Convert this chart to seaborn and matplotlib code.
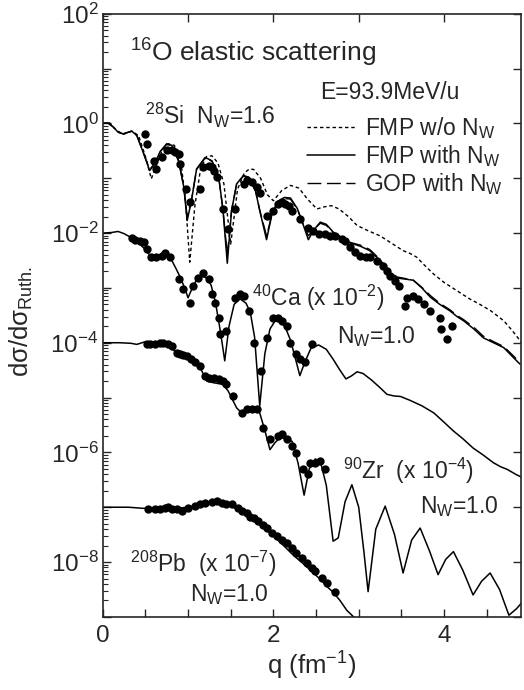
# 16O elastic scattering, 93.9 MeV/u - FMP / GOP comparison
import numpy as np
import pandas as pd
import matplotlib
matplotlib.use('Agg')
import matplotlib.pyplot as plt
import seaborn as sns
from matplotlib.ticker import FixedLocator, FuncFormatter, LogLocator, NullFormatter

# ---- curves (q in fm^-1, log10 of dsigma/dsigma_Ruth) ----
si_fmp_q = [0, 0.06, 0.12, 0.18, 0.24, 0.34, 0.40, 0.48, 0.55, 0.61, 0.67, 0.75, 0.81, 0.89, 0.95,
            0.99, 1.04, 1.10, 1.2, 1.28, 1.36, 1.41, 1.46, 1.51, 1.57, 1.65, 1.71, 1.79, 1.84, 1.92,
            1.98, 2.05, 2.13, 2.2, 2.28, 2.35, 2.41, 2.47, 2.55, 2.62, 2.7, 2.8, 2.9, 3.02, 3.13,
            3.21, 3.29, 3.37, 3.45, 3.55, 3.64, 3.74, 3.84, 3.95, 4.07, 4.15, 4.23, 4.35, 4.46, 4.58,
            4.70, 4.80, 4.89]
si_fmp_lg = [0, 0.01, -0.06, -0.16, -0.19, -0.14, -0.22, -0.55, -0.86, -0.74, -0.52, -0.37, -0.40, -0.68, -1.16,
             -1.77, -1.41, -0.83, -0.62, -0.68, -0.98, -1.59, -2.55, -1.59, -1.10, -0.95, -0.98, -1.22, -1.59, -2.12,
             -1.68, -1.42, -1.35, -1.36, -1.55, -1.85, -2.12, -1.95, -1.80, -1.84, -1.98, -2.08, -2.18, -2.24, -2.32,
             -2.44, -2.58, -2.75, -2.82, -2.84, -2.86, -3.0, -3.17, -3.3, -3.42, -3.52, -3.60, -3.75, -3.91, -4.0,
             -4.09, -4.25, -4.39]
si_gop_lg = [0, 0.01, -0.06, -0.16, -0.19, -0.14, -0.22, -0.55, -0.84, -0.73, -0.52, -0.38, -0.41, -0.69, -1.15,
             -1.70, -1.40, -0.84, -0.63, -0.69, -0.99, -1.58, -2.40, -1.58, -1.10, -0.96, -0.99, -1.23, -1.58, -2.05,
             -1.68, -1.43, -1.37, -1.38, -1.56, -1.84, -2.05, -1.94, -1.82, -1.86, -1.99, -2.08, -2.17, -2.22, -2.30,
             -2.42, -2.56, -2.71, -2.80, -2.83, -2.86, -2.99, -3.14, -3.28, -3.40, -3.50, -3.58, -3.72, -3.88, -3.98,
             -4.07, -4.22, -4.36]
si_won_q = [0, 0.08, 0.16, 0.24, 0.34, 0.42, 0.5, 0.57, 0.63, 0.70, 0.77, 0.84, 0.92, 0.97, 1.02,
            1.08, 1.15, 1.22, 1.28, 1.35, 1.42, 1.50, 1.58, 1.66, 1.72, 1.77, 1.85, 1.93, 2.0, 2.1,
            2.2, 2.3, 2.4, 2.51, 2.6, 2.68, 2.77, 2.88, 2.98, 3.1, 3.25, 3.4, 3.52, 3.6, 3.68,
            3.78, 3.88, 4.0, 4.15, 4.3, 4.42, 4.55, 4.7, 4.8, 4.91]
si_won_lg = [0, 0.01, -0.12, -0.2, -0.14, -0.22, -0.6, -1.01, -0.75, -0.48, -0.37, -0.40, -0.75, -1.4, -2.53,
             -1.5, -0.8, -0.6, -0.59, -0.72, -1.1, -2.2, -1.2, -0.9, -0.83, -0.84, -1.0, -1.3, -1.41, -1.22,
             -1.13, -1.18, -1.38, -1.56, -1.52, -1.5, -1.56, -1.7, -1.86, -1.95, -2.05, -2.2, -2.32, -2.37, -2.44,
             -2.6, -2.75, -2.9, -3.05, -3.2, -3.30, -3.42, -3.6, -3.78, -4.0]

ca_q = [0, 0.1, 0.18, 0.25, 0.32, 0.40, 0.48, 0.54, 0.59, 0.66, 0.73, 0.81, 0.86, 0.91, 0.96,
        1.0, 1.05, 1.10, 1.16, 1.22, 1.27, 1.32, 1.38, 1.43, 1.48, 1.54, 1.61, 1.68, 1.73, 1.78,
        1.84, 1.90, 1.96, 2.02, 2.08, 2.14, 2.2, 2.26, 2.31, 2.37, 2.44, 2.53, 2.62, 2.7, 2.78,
        2.85, 2.92, 2.98, 3.05, 3.15, 3.25, 3.33, 3.41, 3.49, 3.6, 3.74, 3.88, 4.0, 4.11, 4.22,
        4.34, 4.46, 4.58, 4.66, 4.74, 4.84, 4.93]
ca_lg = [-2.0, -1.99, -1.97, -2.01, -2.07, -2.15, -2.27, -2.38, -2.45, -2.43, -2.41, -2.5, -2.65, -2.81, -3.0,
         -3.18, -3.0, -2.85, -2.78, -2.82, -2.95, -3.25, -3.8, -4.33, -3.7, -3.3, -3.2, -3.28, -3.45, -3.9,
         -5.15, -4.2, -3.75, -3.6, -3.6, -3.72, -3.95, -4.3, -4.6, -4.35, -4.1, -4.04, -4.12, -4.3, -4.5,
         -4.66, -4.6, -4.53, -4.56, -4.68, -4.82, -4.94, -4.97, -4.98, -5.05, -5.15, -5.28, -5.45, -5.61, -5.75,
         -5.92, -6.05, -6.19, -6.26, -6.31, -6.4, -6.47]

zr_q = [0, 0.2, 0.33, 0.4, 0.5, 0.6, 0.75, 0.87, 1.0, 1.1, 1.16, 1.22, 1.3, 1.41, 1.47,
        1.57, 1.63, 1.72, 1.80, 1.84, 1.90, 1.96, 2.02, 2.08, 2.15, 2.22, 2.29, 2.36, 2.42, 2.49,
        2.55, 2.62, 2.70, 2.76, 2.84, 2.92, 3.0, 3.06, 3.11, 3.2, 3.31, 3.42, 3.52, 3.62, 3.72,
        3.83, 3.93, 4.02, 4.11, 4.22, 4.34, 4.44, 4.54, 4.65, 4.76, 4.85, 4.94]
zr_lg = [-4.0, -4.0, -4.01, -4.03, -3.98, -3.99, -4.0, -4.2, -4.3, -4.36, -4.51, -4.70, -4.73, -4.76, -4.88,
         -5.19, -5.28, -5.25, -5.22, -5.28, -5.6, -5.95, -5.82, -5.73, -5.75, -5.80, -6.2, -6.78, -6.3, -6.12,
         -6.16, -6.6, -7.62, -7.56, -6.9, -6.59, -7.0, -7.8, -8.54, -7.4, -6.98, -7.5, -8.20, -7.6, -7.38,
         -7.8, -8.23, -7.95, -7.81, -8.15, -8.60, -8.35, -8.20, -8.5, -8.97, -8.85, -8.69]

pb_q = [0, 0.3, 0.47, 0.6, 0.8, 1.0, 1.15, 1.34, 1.5, 1.62, 1.73, 1.86, 2.0, 2.12, 2.23,
        2.35, 2.47, 2.56, 2.63, 2.70, 2.78, 2.86, 2.94, 3.0, 3.1]
pb_lg = [-7.0, -7.0, -7.02, -7.02, -7.03, -7.0, -6.96, -6.91, -6.97, -7.08, -7.2, -7.35, -7.52, -7.7, -7.87,
         -8.03, -8.2, -8.33, -8.45, -8.55, -8.7, -8.88, -9.0, -9.1, -9.3]

# ---- data points ----
si_dq = [.50, .52, .60, .63, .69, .75, .81, .85, .89, .91, .98, 1.02, 1.14, 1.18, 1.24, 1.28, 1.30, 1.34, 1.41, 1.47,
         1.55, 1.65, 1.69, 1.75, 1.81, 1.84, 1.92, 2.00, 2.06, 2.10, 2.14, 2.18, 2.22, 2.31, 2.41, 2.47, 2.53, 2.61,
         2.66, 2.72, 2.80, 2.84, 2.90, 2.96, 3.02, 3.08, 3.13, 3.21, 3.29, 3.33, 3.37, 3.43, 3.47, 3.54, 3.56, 3.64,
         3.70, 3.76, 3.84, 3.95, 3.97, 4.03, 4.09]
si_dlg = [-.20, -.37, -.68, -.83, -.62, -.49, -.48, -.52, -.55, -.74, -1.19, -1.44, -1.19, -.80, -.77, -.80, -.86,
          -.98, -1.56, -1.93, -1.56, -1.10, -1.04, -1.07, -1.16, -1.26, -1.68, -1.59, -1.47, -1.44, -1.47, -1.50,
          -1.59, -1.74, -1.90, -1.96, -2.02, -2.02, -2.05, -2.05, -2.11, -2.14, -2.26, -2.35, -2.41, -2.44, -2.44,
          -2.50, -2.60, -2.69, -2.78, -2.87, -2.96, -3.33, -3.18, -3.14, -3.20, -3.30, -3.42, -3.54, -3.75, -3.94,
          -3.69]
ca_dq = [.34, .38, .44, .48, .52, .57, .63, .69, .73, .79, .89, .94, 1.02, 1.06, 1.12, 1.18, 1.24, 1.28, 1.32, 1.36,
         1.38, 1.45, 1.55, 1.61, 1.65, 1.71, 1.77, 1.86, 1.92, 2.00, 2.06, 2.10, 2.16, 2.20, 2.27, 2.31, 2.37, 2.45]
ca_dlg = [-2.09, -2.12, -2.14, -2.17, -2.29, -2.44, -2.43, -2.41, -2.37, -2.44, -2.84, -3.02, -3.27, -2.96, -2.81,
          -2.72, -2.84, -3.11, -3.27, -3.54, -3.84, -3.78, -3.18, -3.11, -3.14, -3.42, -4.00, -4.52, -3.91, -3.54,
          -3.54, -3.60, -3.69, -4.00, -4.21, -4.30, -4.36, -4.03]
zr_dq = [.52, .55, .61, .67, .71, .77, .81, .87, .91, .94, .99, 1.04, 1.08, 1.14, 1.20, 1.24, 1.30, 1.36, 1.41, 1.45,
         1.53, 1.63, 1.69, 1.75, 1.81, 1.88, 1.96, 2.06, 2.10, 2.16, 2.22, 2.27, 2.35, 2.41, 2.43, 2.49, 2.55, 2.61]
zr_dlg = [-4.02, -4.02, -4.02, -4.00, -4.00, -4.03, -4.06, -4.18, -4.21, -4.23, -4.24, -4.30, -4.36, -4.42, -4.61,
          -4.64, -4.65, -4.67, -4.70, -4.76, -4.97, -5.28, -5.20, -5.20, -5.20, -5.55, -5.76, -5.70, -5.67, -5.76,
          -5.89, -6.01, -6.31, -6.40, -6.19, -6.19, -6.16, -6.31]
pb_dq = [.53, .61, .67, .73, .77, .81, .87, .93, 1.00, 1.08, 1.14, 1.20, 1.28, 1.34, 1.40, 1.45, 1.51, 1.59, 1.63,
         1.69, 1.73, 1.77, 1.82, 1.88, 1.92, 1.98, 2.04, 2.10, 2.16, 2.22, 2.27, 2.33, 2.39, 2.45, 2.49, 2.57, 2.63,
         2.72]
pb_dlg = [-7.03, -7.04, -7.04, -7.01, -7.00, -7.03, -7.04, -7.06, -7.01, -6.98, -6.95, -6.92, -6.90, -6.89, -6.92,
          -6.94, -6.95, -7.01, -7.06, -7.11, -7.17, -7.20, -7.26, -7.32, -7.38, -7.47, -7.53, -7.59, -7.65, -7.75,
          -7.84, -7.93, -8.02, -8.11, -8.17, -8.29, -8.39, -8.54]

sns.set_style('ticks')
plt.rcParams['font.family'] = ['Liberation Sans', 'DejaVu Sans']
plt.rcParams['mathtext.fontset'] = 'custom'
plt.rcParams['mathtext.rm'] = 'Liberation Sans'
plt.rcParams['mathtext.it'] = 'Liberation Sans:italic'
plt.rcParams['mathtext.default'] = 'regular'

fig = plt.figure(figsize=(5.24, 6.9), dpi=100)
ax = fig.add_axes([0.196, 0.106, 0.798, 0.874])
ax.set_yscale('log')

def curve(q, lg, **kw):
    d = pd.DataFrame({'q': q, 'v': 10.0 ** np.array(lg)})
    sns.lineplot(data=d, x='q', y='v', ax=ax, color='black', sort=False, estimator=None, **kw)

def dots(q, lg):
    d = pd.DataFrame({'q': q, 'v': 10.0 ** np.array(lg)})
    sns.scatterplot(data=d, x='q', y='v', ax=ax, color='black', s=36, linewidth=0, zorder=4)

curve(si_won_q, si_won_lg, lw=1.0, linestyle=(0, (2.5, 2.0)), label='FMP w/o N$_\\mathrm{W}$')
curve(si_fmp_q, si_fmp_lg, lw=1.1, label='FMP with N$_\\mathrm{W}$')
curve(si_fmp_q, si_gop_lg, lw=1.0, linestyle=(0, (10, 4)), label='GOP with N$_\\mathrm{W}$')
for q, lg in [(ca_q, ca_lg), (zr_q, zr_lg), (pb_q, pb_lg)]:
    curve(q, lg, lw=1.1)
for q, lg in [(si_dq, si_dlg), (ca_dq, ca_dlg), (zr_dq, zr_dlg), (pb_dq, pb_dlg)]:
    dots(q, lg)

ax.set_xlim(0, 4.9)
ax.set_ylim(1e-9, 1e2)

# ticks
ax.xaxis.set_major_locator(FixedLocator([0, 1, 2, 3, 4]))
ax.xaxis.set_minor_locator(FixedLocator([0.5, 1.5, 2.5, 3.5, 4.5]))
ax.xaxis.set_major_formatter(FuncFormatter(lambda v, p: '%d' % v if int(v) % 2 == 0 else ''))
ax.yaxis.set_major_locator(FixedLocator([10.0 ** k for k in range(-9, 3)]))
ax.yaxis.set_minor_locator(LogLocator(base=10, subs=np.arange(2, 10), numticks=20))
ax.yaxis.set_minor_formatter(NullFormatter())
ax.yaxis.set_major_formatter(FuncFormatter(
    lambda v, p: '$10^{%d}$' % round(np.log10(v)) if round(np.log10(v)) % 2 == 0 else ''))
ax.tick_params(which='major', direction='in', length=6, width=1.0, top=True, right=True, labelsize=17.5)
ax.tick_params(axis='x', which='minor', direction='in', length=6, width=1.0, top=False)
ax.tick_params(axis='y', which='minor', direction='in', length=3.5, width=0.8, right=False)
ax.tick_params(axis='x', pad=6)
ax.tick_params(axis='y', pad=3)
for s in ax.spines.values():
    s.set_linewidth(1.2)

ax.set_xlabel('q (fm$^{-1}$)', fontsize=18.5, labelpad=2)
ax.set_ylabel('d\u03c3/d\u03c3$_{\\mathrm{Ruth.}}$', fontsize=18.5)
ax.yaxis.set_label_coords(-0.162, 0.49)

fs = 16.5
ax.text(0.32, 10 ** 1.28, '$^{16}$O elastic scattering', fontsize=19, va='center')
ax.text(0.50, 10 ** 0.15, '$^{28}$Si  N$_\\mathrm{W}$=1.6', fontsize=fs, va='center')
ax.text(2.547, 10 ** 0.567, 'E=93.9MeV/u', fontsize=fs, va='center')
ax.text(1.75, 10 ** -3.18, '$^{40}$Ca (x 10$^{-2}$)', fontsize=fs, va='center')
ax.text(2.74, 10 ** -3.88, 'N$_\\mathrm{W}$=1.0', fontsize=fs, va='center')
ax.text(2.82, 10 ** -6.34, '$^{90}$Zr  (x 10$^{-4}$)', fontsize=fs, va='center')
ax.text(3.72, 10 ** -6.98, 'N$_\\mathrm{W}$=1.0', fontsize=fs, va='center')
ax.text(0.32, 10 ** -8.04, '$^{208}$Pb  (x 10$^{-7}$)', fontsize=fs, va='center')
ax.text(1.02, 10 ** -8.59, 'N$_\\mathrm{W}$=1.0', fontsize=fs, va='center')

leg = ax.legend(loc='upper left', bbox_to_anchor=(0.488, 0.8325), frameon=False, fontsize=fs,
                handlelength=2.1, handletextpad=0.45, labelspacing=0.09, borderpad=0.0,
                borderaxespad=0.0)

fig.savefig('out.png', dpi=100)
